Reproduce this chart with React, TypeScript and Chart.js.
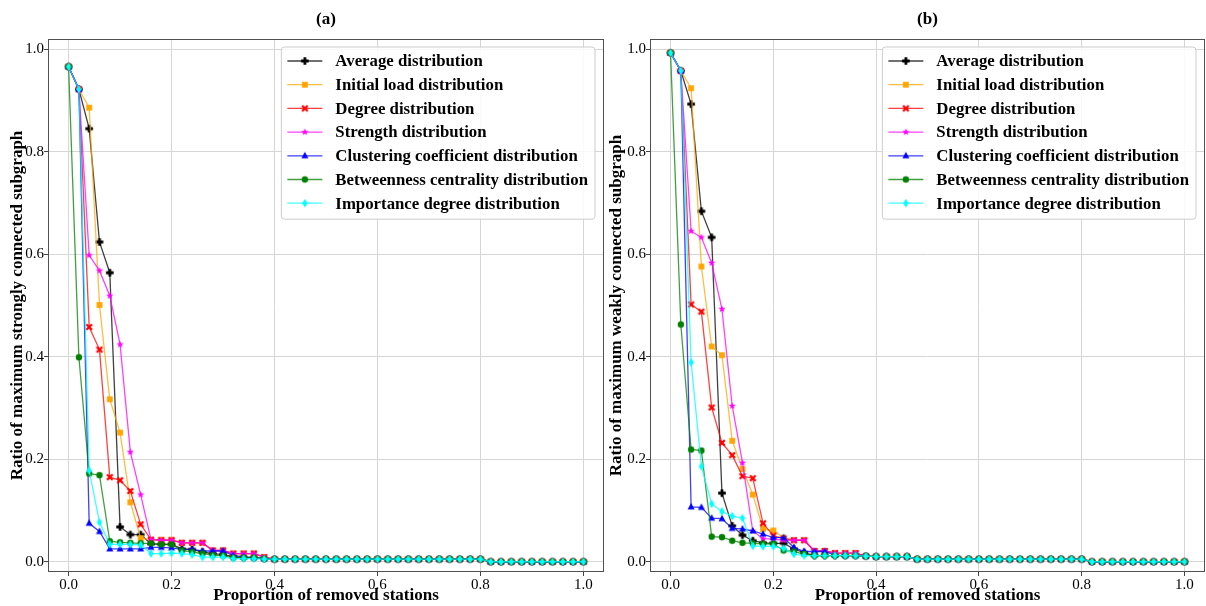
import React, { useEffect, useRef } from 'react';
import { Chart, registerables } from 'chart.js';

Chart.register(...registerables);

const FONT = '"Liberation Serif", "Times New Roman", serif';

// x: proportion of removed stations
const X_VALUES = [
  0.0, 0.02, 0.04, 0.06, 0.08, 0.1, 0.12, 0.14, 0.16, 0.18,
  0.2, 0.22, 0.24, 0.26, 0.28, 0.3, 0.32, 0.34, 0.36, 0.38,
  0.4, 0.42, 0.44, 0.46, 0.48, 0.5, 0.52, 0.54, 0.56, 0.58,
  0.6, 0.62, 0.64, 0.66, 0.68, 0.7, 0.72, 0.74, 0.76, 0.78,
  0.8, 0.82, 0.84, 0.86, 0.88, 0.9, 0.92, 0.94, 0.96, 0.98, 1.0,
];
const X_TICKS = [0.0, 0.2, 0.4, 0.6, 0.8, 1.0];
const Y_TICKS = [0.0, 0.2, 0.4, 0.6, 0.8, 1.0];

const SERIES_NAMES = [
  'Average distribution',
  'Initial load distribution',
  'Degree distribution',
  'Strength distribution',
  'Clustering coefficient distribution',
  'Betweenness centrality distribution',
  'Importance degree distribution',
];

// (a) strongly connected subgraph
const A_AVERAGE = [0.966, 0.922, 0.845, 0.624, 0.564, 0.068, 0.053, 0.053, 0.035, 0.034, 0.034, 0.025, 0.024, 0.019, 0.016, 0.014, 0.010, 0.008, 0.008, 0.006, 0.005, 0.005, 0.005, 0.005, 0.005, 0.005, 0.005, 0.005, 0.005, 0.005, 0.005, 0.005, 0.005, 0.005, 0.005, 0.005, 0.005, 0.005, 0.005, 0.005, 0.005, 0.0, 0.0, 0.0, 0.0, 0.0, 0.0, 0.0, 0.0, 0.0, 0.0];
const A_LOAD = [0.966, 0.922, 0.886, 0.501, 0.317, 0.252, 0.116, 0.046, 0.043, 0.043, 0.043, 0.037, 0.037, 0.037, 0.022, 0.022, 0.016, 0.016, 0.016, 0.009, 0.005, 0.005, 0.005, 0.005, 0.005, 0.005, 0.005, 0.005, 0.005, 0.005, 0.005, 0.005, 0.005, 0.005, 0.005, 0.005, 0.005, 0.005, 0.005, 0.005, 0.005, 0.0, 0.0, 0.0, 0.0, 0.0, 0.0, 0.0, 0.0, 0.0, 0.0];
const A_DEGREE = [0.966, 0.922, 0.458, 0.414, 0.165, 0.159, 0.138, 0.073, 0.043, 0.042, 0.042, 0.037, 0.037, 0.037, 0.022, 0.022, 0.016, 0.016, 0.016, 0.009, 0.005, 0.005, 0.005, 0.005, 0.005, 0.005, 0.005, 0.005, 0.005, 0.005, 0.005, 0.005, 0.005, 0.005, 0.005, 0.005, 0.005, 0.005, 0.005, 0.005, 0.005, 0.0, 0.0, 0.0, 0.0, 0.0, 0.0, 0.0, 0.0, 0.0, 0.0];
const A_STRENGTH = [0.966, 0.922, 0.598, 0.568, 0.519, 0.424, 0.214, 0.131, 0.043, 0.042, 0.042, 0.037, 0.037, 0.037, 0.022, 0.022, 0.016, 0.016, 0.016, 0.009, 0.005, 0.005, 0.005, 0.005, 0.005, 0.005, 0.005, 0.005, 0.005, 0.005, 0.005, 0.005, 0.005, 0.005, 0.005, 0.005, 0.005, 0.005, 0.005, 0.005, 0.005, 0.0, 0.0, 0.0, 0.0, 0.0, 0.0, 0.0, 0.0, 0.0, 0.0];
const A_CLUSTER = [0.966, 0.922, 0.075, 0.059, 0.025, 0.025, 0.025, 0.025, 0.028, 0.028, 0.027, 0.024, 0.024, 0.021, 0.021, 0.021, 0.012, 0.010, 0.008, 0.006, 0.005, 0.005, 0.005, 0.005, 0.005, 0.005, 0.005, 0.005, 0.005, 0.005, 0.005, 0.005, 0.005, 0.005, 0.005, 0.005, 0.005, 0.005, 0.005, 0.005, 0.005, 0.0, 0.0, 0.0, 0.0, 0.0, 0.0, 0.0, 0.0, 0.0, 0.0];
const A_BETWEEN = [0.966, 0.399, 0.172, 0.169, 0.040, 0.038, 0.037, 0.036, 0.036, 0.034, 0.034, 0.022, 0.019, 0.016, 0.013, 0.012, 0.008, 0.008, 0.008, 0.006, 0.005, 0.005, 0.005, 0.005, 0.005, 0.005, 0.005, 0.005, 0.005, 0.005, 0.005, 0.005, 0.005, 0.005, 0.005, 0.005, 0.005, 0.005, 0.005, 0.005, 0.005, 0.0, 0.0, 0.0, 0.0, 0.0, 0.0, 0.0, 0.0, 0.0, 0.0];
const A_IMPORTANCE = [0.966, 0.922, 0.178, 0.077, 0.034, 0.034, 0.034, 0.033, 0.016, 0.016, 0.017, 0.016, 0.014, 0.009, 0.009, 0.009, 0.006, 0.006, 0.006, 0.005, 0.005, 0.005, 0.005, 0.005, 0.005, 0.005, 0.005, 0.005, 0.005, 0.005, 0.005, 0.005, 0.005, 0.005, 0.005, 0.005, 0.005, 0.005, 0.005, 0.005, 0.005, 0.0, 0.0, 0.0, 0.0, 0.0, 0.0, 0.0, 0.0, 0.0, 0.0];

// (b) weakly connected subgraph
const B_AVERAGE = [0.993, 0.958, 0.893, 0.684, 0.633, 0.134, 0.070, 0.052, 0.041, 0.037, 0.036, 0.036, 0.025, 0.018, 0.012, 0.012, 0.012, 0.012, 0.012, 0.011, 0.010, 0.010, 0.010, 0.010, 0.005, 0.005, 0.005, 0.005, 0.005, 0.005, 0.005, 0.005, 0.005, 0.005, 0.005, 0.005, 0.005, 0.005, 0.005, 0.005, 0.005, 0.0, 0.0, 0.0, 0.0, 0.0, 0.0, 0.0, 0.0, 0.0, 0.0];
const B_LOAD = [0.993, 0.958, 0.924, 0.576, 0.420, 0.403, 0.236, 0.181, 0.131, 0.064, 0.061, 0.047, 0.042, 0.042, 0.021, 0.021, 0.017, 0.017, 0.017, 0.011, 0.010, 0.010, 0.010, 0.010, 0.005, 0.005, 0.005, 0.005, 0.005, 0.005, 0.005, 0.005, 0.005, 0.005, 0.005, 0.005, 0.005, 0.005, 0.005, 0.005, 0.005, 0.0, 0.0, 0.0, 0.0, 0.0, 0.0, 0.0, 0.0, 0.0, 0.0];
const B_DEGREE = [0.993, 0.958, 0.502, 0.488, 0.301, 0.232, 0.208, 0.167, 0.163, 0.075, 0.051, 0.045, 0.042, 0.042, 0.021, 0.021, 0.017, 0.017, 0.017, 0.011, 0.010, 0.010, 0.010, 0.010, 0.005, 0.005, 0.005, 0.005, 0.005, 0.005, 0.005, 0.005, 0.005, 0.005, 0.005, 0.005, 0.005, 0.005, 0.005, 0.005, 0.005, 0.0, 0.0, 0.0, 0.0, 0.0, 0.0, 0.0, 0.0, 0.0, 0.0];
const B_STRENGTH = [0.993, 0.958, 0.645, 0.633, 0.583, 0.493, 0.304, 0.193, 0.060, 0.045, 0.044, 0.042, 0.042, 0.042, 0.021, 0.021, 0.017, 0.017, 0.017, 0.011, 0.010, 0.010, 0.010, 0.010, 0.005, 0.005, 0.005, 0.005, 0.005, 0.005, 0.005, 0.005, 0.005, 0.005, 0.005, 0.005, 0.005, 0.005, 0.005, 0.005, 0.005, 0.0, 0.0, 0.0, 0.0, 0.0, 0.0, 0.0, 0.0, 0.0, 0.0];
const B_CLUSTER = [0.993, 0.958, 0.107, 0.106, 0.085, 0.084, 0.065, 0.064, 0.060, 0.054, 0.047, 0.047, 0.028, 0.020, 0.020, 0.020, 0.013, 0.012, 0.012, 0.011, 0.010, 0.010, 0.010, 0.010, 0.005, 0.005, 0.005, 0.005, 0.005, 0.005, 0.005, 0.005, 0.005, 0.005, 0.005, 0.005, 0.005, 0.005, 0.005, 0.005, 0.005, 0.0, 0.0, 0.0, 0.0, 0.0, 0.0, 0.0, 0.0, 0.0, 0.0];
const B_BETWEEN = [0.993, 0.463, 0.219, 0.217, 0.049, 0.048, 0.041, 0.037, 0.036, 0.035, 0.035, 0.022, 0.020, 0.015, 0.012, 0.012, 0.012, 0.012, 0.012, 0.011, 0.010, 0.010, 0.010, 0.010, 0.005, 0.005, 0.005, 0.005, 0.005, 0.005, 0.005, 0.005, 0.005, 0.005, 0.005, 0.005, 0.005, 0.005, 0.005, 0.005, 0.005, 0.0, 0.0, 0.0, 0.0, 0.0, 0.0, 0.0, 0.0, 0.0, 0.0];
const B_IMPORTANCE = [0.993, 0.958, 0.389, 0.186, 0.113, 0.098, 0.089, 0.085, 0.031, 0.030, 0.030, 0.026, 0.015, 0.012, 0.012, 0.012, 0.012, 0.012, 0.012, 0.011, 0.010, 0.010, 0.010, 0.010, 0.005, 0.005, 0.005, 0.005, 0.005, 0.005, 0.005, 0.005, 0.005, 0.005, 0.005, 0.005, 0.005, 0.005, 0.005, 0.005, 0.005, 0.0, 0.0, 0.0, 0.0, 0.0, 0.0, 0.0, 0.0, 0.0, 0.0];

const COLORS = ['#000000', '#FFA500', '#FF0000', '#FF00FF', '#0000FF', '#008000', '#00FFFF'];
const LINE_COLORS = [
  'rgba(0,0,0,0.75)',
  'rgba(255,165,0,0.75)',
  'rgba(255,0,0,0.75)',
  'rgba(255,0,255,0.75)',
  'rgba(0,0,255,0.75)',
  'rgba(0,128,0,0.75)',
  'rgba(0,255,255,0.75)',
];
const MARKERS = ['plus', 'square', 'x', 'star', 'triangle', 'circle', 'diamond'];

function makeMarker(kind: string, color: string): HTMLCanvasElement {
  const S = 12;
  const c = document.createElement('canvas');
  c.width = S;
  c.height = S;
  const g = c.getContext('2d') as CanvasRenderingContext2D;
  const m = S / 2;
  g.fillStyle = color;
  g.strokeStyle = color;
  g.beginPath();
  switch (kind) {
    case 'plus': {
      const a = 3.8, t = 1.4;
      g.rect(m - a, m - t, 2 * a, 2 * t);
      g.rect(m - t, m - a, 2 * t, 2 * a);
      g.fill();
      break;
    }
    case 'square':
      g.fillRect(m - 2.9, m - 2.9, 5.8, 5.8);
      break;
    case 'x':
      g.lineWidth = 2.3;
      g.moveTo(m - 2.8, m - 2.8);
      g.lineTo(m + 2.8, m + 2.8);
      g.moveTo(m + 2.8, m - 2.8);
      g.lineTo(m - 2.8, m + 2.8);
      g.stroke();
      break;
    case 'star': {
      for (let i = 0; i < 10; i++) {
        const r = i % 2 === 0 ? 3.8 : 1.6;
        const ang = -Math.PI / 2 + (i * Math.PI) / 5;
        const px = m + r * Math.cos(ang);
        const py = m + r * Math.sin(ang);
        if (i === 0) g.moveTo(px, py);
        else g.lineTo(px, py);
      }
      g.closePath();
      g.fill();
      break;
    }
    case 'triangle':
      g.moveTo(m, m - 3.9);
      g.lineTo(m + 3.5, m + 2.4);
      g.lineTo(m - 3.5, m + 2.4);
      g.closePath();
      g.fill();
      break;
    case 'circle':
      g.arc(m, m, 3.2, 0, Math.PI * 2);
      g.fill();
      break;
    case 'diamond':
      g.moveTo(m, m - 4.2);
      g.lineTo(m + 2.7, m);
      g.lineTo(m, m + 4.2);
      g.lineTo(m - 2.7, m);
      g.closePath();
      g.fill();
      break;
  }
  return c;
}

const framePlugin = {
  id: 'frameBox',
  afterDatasetsDraw(chart: any) {
    const { ctx, chartArea } = chart;
    ctx.save();
    ctx.strokeStyle = '#505050';
    ctx.lineWidth = 1;
    ctx.strokeRect(
      Math.round(chartArea.left) + 0.5,
      Math.round(chartArea.top) + 0.5,
      Math.round(chartArea.right - chartArea.left) - 1,
      Math.round(chartArea.bottom - chartArea.top) - 1
    );
    ctx.restore();
  },
};

const legendPlugin = {
  id: 'innerLegend',
  afterDraw(chart: any) {
    const { ctx, chartArea } = chart;
    const markers: HTMLCanvasElement[] = chart.options.plugins.innerLegend.markers;
    ctx.save();
    ctx.font = `bold 16.8px ${FONT}`;
    let maxW = 0;
    SERIES_NAMES.forEach((n) => {
      maxW = Math.max(maxW, ctx.measureText(n).width);
    });
    const padL = 6, lineLen = 35, gap = 13, padR = 7;
    const boxW = padL + lineLen + gap + maxW + padR;
    const rowH = 23.7;
    const boxH = 14 + rowH * (SERIES_NAMES.length - 1) + 16;
    const right = chartArea.right - 9;
    const left = right - boxW;
    const top = chartArea.top + 8;
    const r = 3;
    ctx.beginPath();
    ctx.moveTo(left + r, top);
    ctx.lineTo(left + boxW - r, top);
    ctx.arcTo(left + boxW, top, left + boxW, top + r, r);
    ctx.lineTo(left + boxW, top + boxH - r);
    ctx.arcTo(left + boxW, top + boxH, left + boxW - r, top + boxH, r);
    ctx.lineTo(left + r, top + boxH);
    ctx.arcTo(left, top + boxH, left, top + boxH - r, r);
    ctx.lineTo(left, top + r);
    ctx.arcTo(left, top, left + r, top, r);
    ctx.closePath();
    ctx.fillStyle = 'rgba(255,255,255,0.85)';
    ctx.fill();
    ctx.strokeStyle = '#cccccc';
    ctx.lineWidth = 1;
    ctx.stroke();
    SERIES_NAMES.forEach((name, i) => {
      const cy = top + 14 + i * rowH;
      const x0 = left + padL;
      ctx.strokeStyle = LINE_COLORS[i];
      ctx.lineWidth = 1.3;
      ctx.beginPath();
      ctx.moveTo(x0, cy);
      ctx.lineTo(x0 + lineLen, cy);
      ctx.stroke();
      const mk = markers[i];
      ctx.drawImage(mk, x0 + lineLen / 2 - mk.width / 2, cy - mk.height / 2);
      ctx.fillStyle = '#000';
      ctx.textBaseline = 'middle';
      ctx.textAlign = 'left';
      ctx.fillText(name, x0 + lineLen + gap, cy + 1);
    });
    ctx.restore();
  },
};

type PanelProps = {
  title: string;
  yTitle: string;
  series: number[][];
  left: number;
  width: number;
  yAxisWidth: number;
  yTitlePad: number;
  rightPad: number;
};

function Panel(props: PanelProps) {
  const ref = useRef<HTMLCanvasElement | null>(null);
  useEffect(() => {
    const canvas = ref.current;
    if (!canvas) return;
    const markers = MARKERS.map((k, i) => makeMarker(k, COLORS[i]));
    const datasets = props.series.map((vals, i) => ({
      label: SERIES_NAMES[i],
      data: X_VALUES.map((x, j) => ({ x, y: vals[j] })),
      borderColor: LINE_COLORS[i],
      backgroundColor: COLORS[i],
      borderWidth: 1.3,
      pointStyle: markers[i],
      pointRadius: 4,
      pointHoverRadius: 4,
      tension: 0,
      fill: false,
      order: props.series.length - i,
    }));
    const tickFont = { family: FONT, size: 15 };
    const titleFont = { family: FONT, size: 17, weight: 'bold' as const };
    const grid = {
      color: '#d6d6d6',
      lineWidth: 1,
      drawTicks: true,
      tickLength: 4,
      tickColor: '#444444',
    };
    const chart = new Chart(canvas, {
      type: 'line',
      data: { datasets },
      plugins: [framePlugin, legendPlugin],
      options: {
        animation: false,
        responsive: false,
        devicePixelRatio: 1,
        layout: { autoPadding: false, padding: { left: 0, right: props.rightPad, top: 0, bottom: 0 } },
        scales: {
          x: {
            type: 'linear',
            min: -0.04,
            max: 1.04,
            afterBuildTicks: (s: any) => {
              s.ticks = X_TICKS.map((v) => ({ value: v }));
            },
            afterFit: (s: any) => {
              s.height = 34;
              s.paddingLeft = 0;
              s.paddingRight = 0;
            },
            ticks: {
              callback: (v: any) => Number(v).toFixed(1),
              font: tickFont,
              color: '#000',
              padding: 0,
              maxRotation: 0,
              autoSkip: false,
            },
            grid,
            border: { display: false },
            title: {
              display: true,
              text: 'Proportion of removed stations',
              font: titleFont,
              color: '#000',
              padding: { top: 0, bottom: 0 },
            },
          },
          y: {
            type: 'linear',
            min: -0.02,
            max: 1.02,
            afterBuildTicks: (s: any) => {
              s.ticks = Y_TICKS.map((v) => ({ value: v }));
            },
            afterFit: (s: any) => {
              s.width = props.yAxisWidth;
              s.paddingTop = 0;
              s.paddingBottom = 0;
            },
            ticks: {
              callback: (v: any) => Number(v).toFixed(1),
              font: tickFont,
              color: '#000',
              padding: 0,
            },
            grid,
            border: { display: false },
            title: {
              display: true,
              text: props.yTitle,
              font: titleFont,
              color: '#000',
              padding: { top: props.yTitlePad, bottom: 0 },
            },
          },
        },
        plugins: {
          legend: { display: false },
          tooltip: { enabled: false },
          title: {
            display: true,
            text: props.title,
            font: titleFont,
            color: '#000',
            fullSize: false,
            padding: { top: 9, bottom: 9.6 },
          },
          innerLegend: { markers },
        } as any,
      },
    } as any);
    return () => chart.destroy();
  }, []);
  return (
    <canvas
      ref={ref}
      width={props.width}
      height={606}
      style={{ position: 'absolute', left: props.left, top: 0, width: props.width, height: 606, display: 'block' }}
    />
  );
}

export default function App() {
  return (
    <div style={{ position: 'fixed', left: 0, top: 0, width: 1206, height: 606, background: '#ffffff', overflow: 'hidden' }}>
      <Panel
        title="(a)"
        yTitle="Ratio of maximum strongly connected subgraph"
        series={[A_AVERAGE, A_LOAD, A_DEGREE, A_STRENGTH, A_CLUSTER, A_BETWEEN, A_IMPORTANCE]}
        left={0}
        width={606}
        yAxisWidth={48}
        yTitlePad={7.8}
        rightPad={2}
      />
      <Panel
        title="(b)"
        yTitle="Ratio of maximum weakly connected subgraph"
        series={[B_AVERAGE, B_LOAD, B_DEGREE, B_STRENGTH, B_CLUSTER, B_BETWEEN, B_IMPORTANCE]}
        left={606}
        width={600}
        yAxisWidth={44}
        yTitlePad={0.8}
        rightPad={1}
      />
    </div>
  );
}
